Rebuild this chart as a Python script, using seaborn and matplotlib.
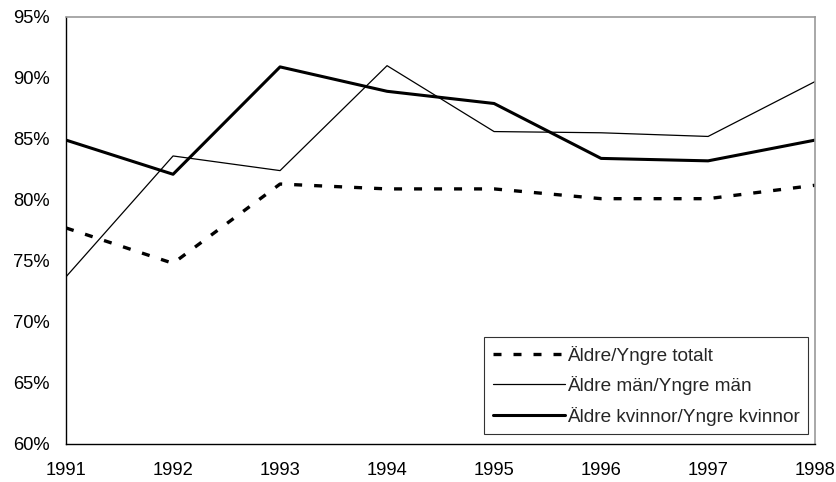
import pandas as pd
import numpy as np
import matplotlib
matplotlib.use('Agg')
import matplotlib.pyplot as plt
import seaborn as sns
from matplotlib.ticker import FuncFormatter

years = [1991, 1992, 1993, 1994, 1995, 1996, 1997, 1998]
totalt = [77.7, 74.8, 81.3, 80.9, 80.9, 80.1, 80.1, 81.2]
man = [73.7, 83.6, 82.4, 91.0, 85.6, 85.5, 85.2, 89.7]
kvinnor = [84.9, 82.1, 90.9, 88.9, 87.9, 83.4, 83.2, 84.9]

labels = ['Äldre/Yngre totalt', 'Äldre män/Yngre män', 'Äldre kvinnor/Yngre kvinnor']

sns.set_style('white')
plt.rcParams['font.family'] = ['Liberation Sans', 'DejaVu Sans']
fs = 13.2

fig = plt.figure(figsize=(8.36, 4.82), dpi=100)
ax = fig.add_axes([0.079, 0.079, 0.896, 0.886])

df = pd.DataFrame({'year': years, 'totalt': totalt, 'man': man, 'kvinnor': kvinnor})

sns.lineplot(data=df, x='year', y='totalt', ax=ax, color='black', lw=2.4, label=labels[0])
ax.lines[-1].set_dashes((2.4, 3.6))
sns.lineplot(data=df, x='year', y='man', ax=ax, color='black', lw=0.9, label=labels[1])
sns.lineplot(data=df, x='year', y='kvinnor', ax=ax, color='black', lw=2.2, label=labels[2])

ax.set_xlim(1991, 1998)
ax.set_ylim(60, 95)
ax.set_xticks(years)
ax.set_yticks(np.arange(60, 96, 5))
ax.yaxis.set_major_formatter(FuncFormatter(lambda v, p: '%d%%' % v))
ax.set_xlabel('')
ax.set_ylabel('')

for s in ['top', 'right']:
    ax.spines[s].set_color('#999999')
    ax.spines[s].set_linewidth(1.2)
for s in ['left', 'bottom']:
    ax.spines[s].set_color('black')
    ax.spines[s].set_linewidth(1.0)

ax.tick_params(axis='x', direction='inout', length=6, width=0.8, colors='black',
               pad=10, labelsize=fs)
ax.tick_params(axis='y', direction='out', length=5.5, width=0.8, colors='black',
               pad=6, labelsize=fs)

leg = ax.legend(loc='lower right', bbox_to_anchor=(0.991, 0.023), frameon=True,
                fancybox=False, edgecolor='black', borderpad=0.45, handlelength=3.8,
                handletextpad=0.1, labelspacing=0.6, fontsize=13.7, borderaxespad=0)
leg.get_frame().set_linewidth(0.8)
leg.get_lines()[0].set_dashes((2.4, 3.6))

fig.savefig('out.png', dpi=100)
